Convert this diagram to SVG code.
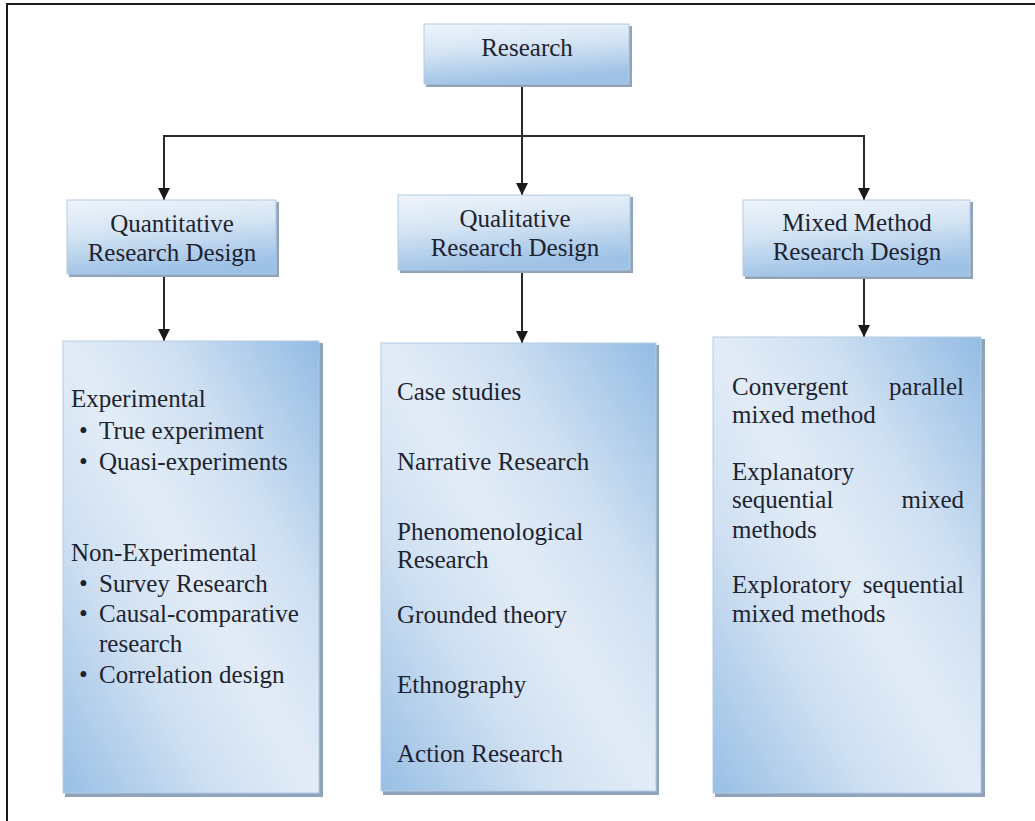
<svg xmlns="http://www.w3.org/2000/svg" width="1035" height="821" viewBox="0 0 1035 821">
<style>
  text { font-family: "Liberation Serif", "Times New Roman", serif; font-size: 25px; fill: #1e2330; }
  .c { text-anchor: middle; }
  .e { text-anchor: end; }
  .shadow { fill: #8fa3ba; }
  .hdr { fill: url(#gHdr); stroke: #b3cbe4; stroke-width: 1; }
  .lst { fill: url(#gList); stroke: #b3cbe4; stroke-width: 1; }
  .conn { stroke: #2a2a2a; stroke-width: 2; fill: none; }
  .frame { stroke: #1a1a1a; stroke-width: 2; fill: none; }
</style>
<defs>
  <linearGradient id="gHdr" x1="0" y1="0" x2="0.25" y2="1">
    <stop offset="0" stop-color="#eef4fb"/>
    <stop offset="0.45" stop-color="#d6e5f4"/>
    <stop offset="1" stop-color="#9ec2e6"/>
  </linearGradient>
  <linearGradient id="gList" x1="1" y1="0" x2="0" y2="1">
    <stop offset="0" stop-color="#93bce4"/>
    <stop offset="0.3" stop-color="#cfe0f2"/>
    <stop offset="0.5" stop-color="#e2ecf7"/>
    <stop offset="0.7" stop-color="#cfe0f2"/>
    <stop offset="1" stop-color="#98bfe5"/>
  </linearGradient>
  <marker id="arr" markerUnits="userSpaceOnUse" markerWidth="12" markerHeight="12" refX="12" refY="6" orient="auto">
    <path d="M0,0 L12,6 L0,12 z" fill="#1a1a1a"/>
  </marker>
</defs>

<polyline class="frame" points="7,821 7,4 1035,4"/>

<g id="connectors">
  <line class="conn" x1="522" y1="86" x2="522" y2="195" marker-end="url(#arr)"/>
  <line class="conn" x1="164" y1="136" x2="864" y2="136"/>
  <line class="conn" x1="164" y1="135" x2="164" y2="200" marker-end="url(#arr)"/>
  <line class="conn" x1="864" y1="135" x2="864" y2="200" marker-end="url(#arr)"/>
  <line class="conn" x1="164" y1="276" x2="164" y2="341" marker-end="url(#arr)"/>
  <line class="conn" x1="522" y1="273" x2="522" y2="343" marker-end="url(#arr)"/>
  <line class="conn" x1="864" y1="279" x2="864" y2="337" marker-end="url(#arr)"/>
</g>

<g id="research">
  <rect class="shadow" x="426" y="26" width="206" height="61"/>
  <rect class="hdr" x="424" y="24" width="205" height="60"/>
  <text class="c" x="527" y="56">Research</text>
</g>

<g id="quantitative">
  <rect class="shadow" x="69" y="202" width="210" height="75"/>
  <rect class="hdr" x="67" y="200" width="209" height="74"/>
  <text class="c" x="172" y="232">Quantitative</text>
  <text class="c" x="172" y="261">Research Design</text>
</g>

<g id="qualitative">
  <rect class="shadow" x="400" y="197" width="233" height="76"/>
  <rect class="hdr" x="398" y="195" width="232" height="75"/>
  <text class="c" x="515" y="227">Qualitative</text>
  <text class="c" x="515" y="256">Research Design</text>
</g>

<g id="mixed">
  <rect class="shadow" x="745" y="202" width="228" height="77"/>
  <rect class="hdr" x="743" y="200" width="227" height="76"/>
  <text class="c" x="857" y="231">Mixed Method</text>
  <text class="c" x="857" y="260">Research Design</text>
</g>

<g id="quantitative-list">
  <rect class="shadow" x="65" y="343" width="258" height="454"/>
  <rect class="lst" x="63" y="341" width="256" height="452"/>
  <text x="71" y="407">Experimental</text>
  <text x="79" y="439">•</text><text x="99" y="439">True experiment</text>
  <text x="79" y="470">•</text><text x="99" y="470">Quasi-experiments</text>
  <text x="71" y="561">Non-Experimental</text>
  <text x="79" y="592">•</text><text x="99" y="592">Survey Research</text>
  <text x="79" y="622">•</text><text x="99" y="622">Causal-comparative</text>
  <text x="99" y="652">research</text>
  <text x="79" y="683">•</text><text x="99" y="683">Correlation design</text>
</g>

<g id="qualitative-list">
  <rect class="shadow" x="383" y="345" width="276" height="450"/>
  <rect class="lst" x="381" y="343" width="275" height="448"/>
  <text x="397" y="400">Case studies</text>
  <text x="397" y="470">Narrative Research</text>
  <text x="397" y="540">Phenomenological</text>
  <text x="397" y="568">Research</text>
  <text x="397" y="623">Grounded theory</text>
  <text x="397" y="693">Ethnography</text>
  <text x="397" y="762">Action Research</text>
</g>

<g id="mixed-list">
  <rect class="shadow" x="715" y="339" width="270" height="458"/>
  <rect class="lst" x="713" y="337" width="268" height="456"/>
  <text x="732" y="395">Convergent</text><text class="e" x="964" y="395">parallel</text>
  <text x="732" y="423">mixed method</text>
  <text x="732" y="480">Explanatory</text>
  <text x="732" y="508">sequential</text><text class="e" x="964" y="508">mixed</text>
  <text x="732" y="538">methods</text>
  <text x="732" y="593">Exploratory</text><text class="e" x="964" y="593">sequential</text>
  <text x="732" y="622">mixed methods</text>
</g>
</svg>
